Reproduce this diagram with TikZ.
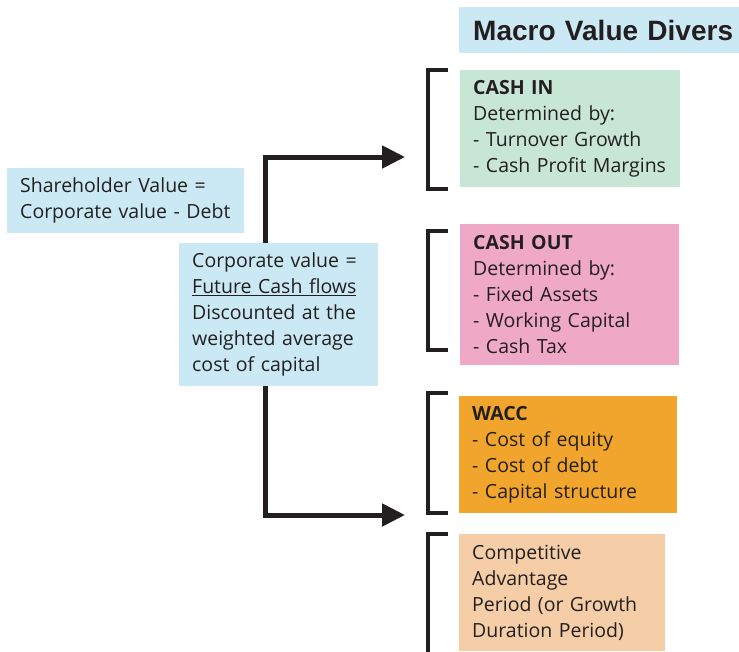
\documentclass[tikz,border=0pt]{standalone}
\usepackage{fontspec}
\setmainfont{Open Sans}
\newfontfamily\headfont{Liberation Sans}
\usetikzlibrary{arrows.meta, positioning, backgrounds}
\definecolor{mvdBlue}{RGB}{203,233,244}
\definecolor{mvdGreen}{RGB}{200,230,214}
\definecolor{mvdPink}{RGB}{240,168,199}
\definecolor{mvdOrange}{RGB}{241,165,44}
\definecolor{mvdPeach}{RGB}{245,206,167}
\definecolor{mvdText}{RGB}{35,31,32}

\begin{document}
\begin{tikzpicture}[x=1pt, y=-1pt,
  box/.style={anchor=north west, inner xsep=13pt, inner ysep=0pt, align=left,
              text=mvdText, font=\fontsize{19.5}{26}\selectfont},
  bracket/.style={line width=4pt, draw=mvdText, line join=miter},
  flow/.style={-{Triangle[length=23pt, width=22pt]}, line width=5pt, draw=mvdText,
               line join=miter},
]
  \clip (0,0) rectangle (739,651);

  % heading
  \node[box, fill=mvdBlue, inner xsep=14pt, text width=320pt, minimum height=46pt,
        font=\headfont\bfseries\fontsize{28}{30}\selectfont] (title) at (459,7)
    {Macro Value Divers};

  % left hand side
  \node[box, fill=mvdBlue, text width=211pt, minimum height=65pt] (share) at (7,168)
    {Shareholder Value =\\Corporate value - Debt};
  \node[box, fill=mvdBlue, text width=173pt, minimum height=143pt] (corp) at (179,243)
    {Corporate value =\\\underline{Future Cash flows}\\Discounted at the\\weighted average\\cost of capital};

  % value drivers
  \node[box, fill=mvdGreen, text width=194pt, minimum height=117pt] (cashin) at (460,70)
    {\textbf{CASH IN}\\Determined by:\\- Turnover Growth\\- Cash Profit Margins};
  \node[box, fill=mvdPink, text width=193pt, minimum height=141pt] (cashout) at (460,224)
    {\textbf{CASH OUT}\\Determined by:\\- Fixed Assets\\- Working Capital\\- Cash Tax};
  \node[box, fill=mvdOrange, text width=192pt, minimum height=117pt] (wacc) at (459,396)
    {\textbf{WACC}\\- Cost of equity\\- Cost of debt\\- Capital structure};
  \node[box, fill=mvdPeach, text width=180pt, minimum height=117pt] (cap) at (459,534)
    {Competitive\\Advantage\\Period (or Growth\\Duration Period)};

  % brackets
  \foreach \top/\bot in {70/189, 231/350, 393/513, 534/665}
    \draw[bracket] (448,\top) -- (428,\top) -- (428,\bot) -- (448,\bot);

  % flow from corporate value
  \coordinate (trunk) at (265,0);
  \coordinate (inTip) at (405,157);
  \coordinate (waccTip) at (405,515);
  \begin{scope}[on background layer]
    \draw[flow] (corp.north -| trunk) |- (inTip);
    \draw[flow] (corp.south -| trunk) |- (waccTip);
  \end{scope}
\end{tikzpicture}
\end{document}
